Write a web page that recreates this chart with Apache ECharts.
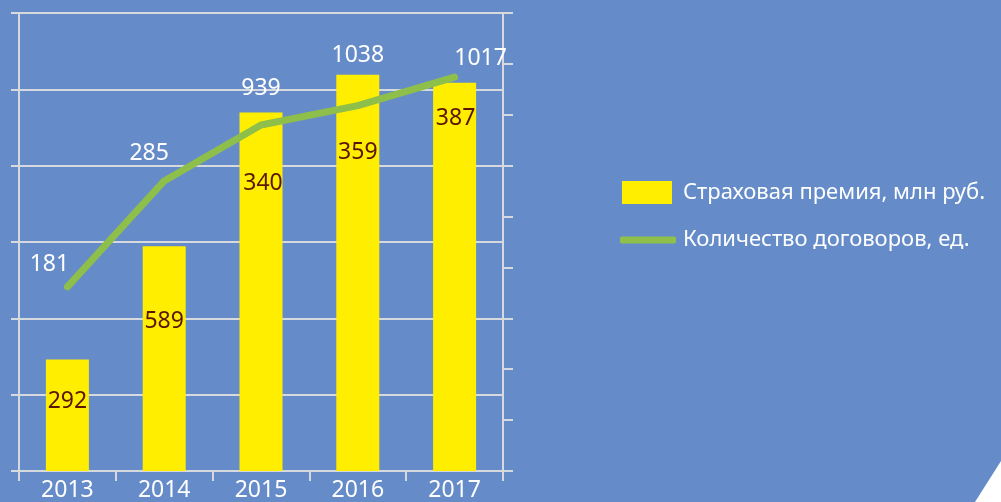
<!DOCTYPE html>
<html>
<head>
<meta charset="utf-8">
<script src="https://cdn.jsdelivr.net/npm/echarts@6/dist/echarts.min.js"></script>
<style>
  html, body { margin: 0; padding: 0; background: #658cc8; }
  #chart { width: 1001px; height: 502px; }
</style>
</head>
<body>
<div id="chart"></div>
<script>
// data
var years = ['2013', '2014', '2015', '2016', '2017']
var premium = [292, 589, 939, 1038, 1017] // Страховая премия, млн руб.
var contracts = [181, 285, 340, 359, 387] // Количество договоров, ед.

var premiumName = 'Страховая премия, млн руб.'
var contractsName = 'Количество договоров, ед.'

var font = 'Noto Sans'
var darkText = '#5a1600'

// where each label sits (bars: first two inside, rest above)
var barLabelPos = [
  { position: ['50%', 42], color: darkText },
  { position: ['50%', 75], color: darkText },
  { position: ['50%', -24], color: '#fff' },
  { position: ['50%', -19], color: '#fff' },
  { position: ['50%', -24], color: '#fff', offset: [26, 0] }
]
var lineLabelPos = [
  { offset: [-18, -22], color: '#fff' },
  { offset: [-15, -27], color: '#fff' },
  { offset: [2, 58], color: darkText },
  { offset: [0, 47], color: darkText },
  { offset: [1, 41], color: darkText }
]

var barData = premium.map(function(v, i) {
  var p = barLabelPos[i]
  return {
    value: v,
    label: { position: p.position, offset: p.offset || [0, 0], color: p.color }
  }
})
var lineData = contracts.map(function(v, i) {
  var p = lineLabelPos[i]
  return { value: v, label: { offset: p.offset, color: p.color } }
})

var chart = echarts.init(document.getElementById('chart'))
chart.setOption({
  backgroundColor: '#658cc8',
  animation: false,
  textStyle: { fontFamily: font },
  grid: { left: 19, right: 498, top: 13, bottom: 30 },
  legend: [
    {
      data: [{ name: premiumName, icon: 'rect' }],
      left: 622,
      top: 181,
      padding: 0,
      itemWidth: 50,
      itemHeight: 23,
      selectedMode: false,
      textStyle: { color: '#fff', fontSize: 22, fontFamily: font, padding: [0, 0, 0, 6] }
    },
    {
      data: [{ name: contractsName, icon: 'roundRect' }],
      left: 620,
      top: 229,
      padding: 0,
      itemWidth: 56,
      itemHeight: 7,
      selectedMode: false,
      itemStyle: { color: '#8dbf4a' },
      lineStyle: { width: 0 },
      textStyle: { color: '#fff', fontSize: 22, fontFamily: font, padding: [0, 0, 0, 2] }
    }
  ],
  xAxis: {
    type: 'category',
    data: years,
    boundaryGap: true,
    axisLine: { show: true, lineStyle: { color: '#d6d9de', width: 2 } },
    axisTick: { show: true, length: 10, lineStyle: { color: '#d6d9de', width: 2 } },
    axisLabel: { color: '#fff', fontSize: 23, fontFamily: font, margin: 8 }
  },
  yAxis: [
    {
      type: 'value',
      min: 0,
      max: 1200,
      interval: 200,
      position: 'left',
      axisLine: { show: true, lineStyle: { color: '#d6d9de', width: 2 } },
      axisTick: { show: true, length: 8, lineStyle: { color: '#d6d9de', width: 2 } },
      axisLabel: { show: false },
      splitLine: { show: true, lineStyle: { color: '#d6d9de', width: 2 } }
    },
    {
      type: 'value',
      min: 0,
      max: 450,
      interval: 50,
      position: 'right',
      axisLine: { show: true, lineStyle: { color: '#d6d9de', width: 2 } },
      axisTick: { show: true, length: 10, lineStyle: { color: '#d6d9de', width: 2 } },
      axisLabel: { show: false },
      splitLine: { show: false }
    }
  ],
  series: [
    {
      name: premiumName,
      type: 'bar',
      yAxisIndex: 0,
      barWidth: 43,
      itemStyle: { color: '#ffee00' },
      label: {
        show: true,
        fontSize: 23,
        fontFamily: font,
        align: 'center',
        verticalAlign: 'middle'
      },
      data: barData
    },
    {
      name: contractsName,
      type: 'line',
      yAxisIndex: 1,
      symbol: 'circle',
      symbolSize: 1,
      itemStyle: { color: '#8dbf4a' },
      lineStyle: { color: '#8dbf4a', width: 7, cap: 'round', join: 'round' },
      label: {
        show: true,
        position: 'inside',
        fontSize: 23,
        fontFamily: font
      },
      z: 3,
      data: lineData
    }
  ],
  graphic: [
    {
      type: 'polygon',
      shape: { points: [[1001, 461], [975, 502], [1001, 502]] },
      style: { fill: '#fff' },
      silent: true
    }
  ]
})
</script>
</body>
</html>
